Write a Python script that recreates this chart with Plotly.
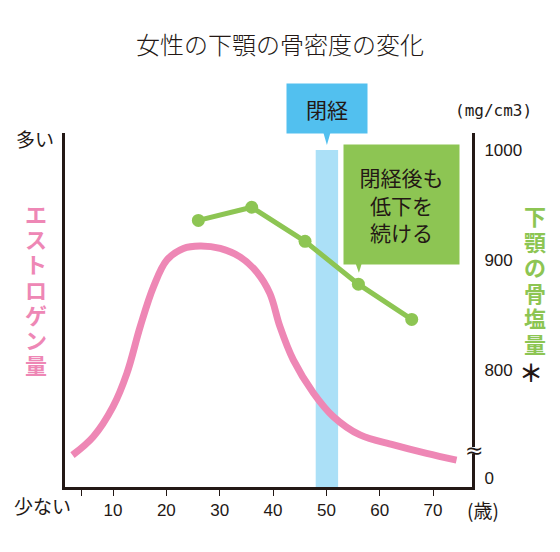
import plotly.graph_objects as go

# ---------------- data ----------------
estrogen_age = [2.4, 6.3, 10.0, 12.6, 15.1, 17.6, 20.1, 23.2, 26.3, 30.1, 33.8, 36.9,
                39.4, 41.3, 43.8, 47.6, 51.3, 56.3, 62.6, 68.8, 74.4]
estrogen_level = [9.0, 14.2, 22.7, 32.1, 45.3, 56.6, 64.1, 67.4, 68.1, 67.4, 65.0, 60.8,
                  54.7, 45.3, 35.9, 26.5, 19.9, 14.7, 11.9, 9.5, 7.6]

bone_age = [26, 36, 46, 56, 66]
bone_mineral = [936, 948, 917, 878, 846]   # mg/cm3

menopause_range = [48.0, 52.2]

x_tick_vals = [4, 10, 20, 30, 40, 50, 60, 70]
x_tick_text = ["", "10", "20", "30", "40", "50", "60", "70"]

y2_tick_vals = [702, 800, 900, 1000]       # 702 = broken-axis position of "0"
y2_tick_text = ["0", "800", "900", "1000"]

title_text = "女性の下顎の骨密度の変化"
left_label = "エストロゲン量"
right_label = "下顎の骨塩量"

# ---------------- style ----------------
W, H = 560, 552
ML, MR, MT, MB = 65, 88, 133, 65
PW, PH = W - ML - MR, H - MT - MB
INK = "#231815"
PINK = "#ee87b5"
GREEN = "#8dc553"
BAND = "#abe0f7"
BLUE = "#52c0ef"
JP = "Noto Sans CJK JP"
LAT = "Liberation Sans, Arial, sans-serif"
X_RANGE = [1.0, 77.3]
Y2_RANGE = [693.6, 1015.5]


def px_x(p):
    return (p - ML) / PW


def px_y(p):
    return (H - MB - p) / PH


def label(text, x, y, size, color=INK, family=JP, weight="normal", **kw):
    return dict(text=text, x=px_x(x), xref="paper", y=px_y(y), yref="paper",
                xanchor="center", yanchor="middle", showarrow=False,
                font=dict(family=family, size=size, color=color, weight=weight), **kw)


fig = go.Figure()

fig.add_trace(go.Scatter(
    x=estrogen_age, y=estrogen_level, mode="lines",
    line=dict(color=PINK, width=7, shape="spline", smoothing=1.0),
    yaxis="y", hoverinfo="skip", showlegend=False))

fig.add_trace(go.Scatter(
    x=bone_age, y=bone_mineral, mode="lines+markers",
    line=dict(color=GREEN, width=5),
    marker=dict(color=GREEN, size=13),
    yaxis="y2", hoverinfo="skip", showlegend=False))

shapes = []
# menopause band
shapes.append(dict(type="rect", xref="x", yref="y2",
                   x0=menopause_range[0], x1=menopause_range[1],
                   y0=Y2_RANGE[0], y1=1000,
                   fillcolor=BAND, line=dict(width=0), layer="below"))
mid = (menopause_range[0] + menopause_range[1]) / 2
# blue label pointer
shapes.append(dict(type="path", xref="x", yref="paper",
                   path=f"M {mid-0.75},{px_y(131)} L {mid+0.75},{px_y(131)} L {mid},{px_y(145)} Z",
                   fillcolor=BLUE, line=dict(width=0), layer="above"))
# green label pointer
pa = bone_age[3]
shapes.append(dict(type="path", xref="x", yref="y2",
                   path=f"M {pa-0.6},898 L {pa+0.7},898 L {pa+0.1},888.5 Z",
                   fillcolor=GREEN, line=dict(width=0), layer="above"))
# axis break gap
shapes.append(dict(type="rect", xref="paper", yref="y2",
                   x0=px_x(468), x1=px_x(476), y0=724, y1=730,
                   fillcolor="white", line=dict(width=0), layer="above"))

ann = []
ann.append(label(title_text, W / 2, 44, 24, weight=300))
# blue label box
ann.append(dict(text="閉経", x=mid, xref="x", y=px_y(108.5), yref="paper",
                xanchor="center", yanchor="middle", showarrow=False,
                width=80, height=49, bgcolor=BLUE, borderpad=0,
                font=dict(family=JP, size=21, color=INK)))
# green label box
ann.append(dict(text="閉経後も<br>低下を<br>続ける", x=64.1, xref="x", y=950.5, yref="y2",
                xanchor="center", yanchor="middle", showarrow=False,
                width=115, height=119, bgcolor=GREEN, borderpad=0,
                font=dict(family=JP, size=21, color=INK)))
# axis end labels
ann.append(label("多い", 35, 139, 19))
ann.append(label("少ない", 42, 505, 19))
ann.append(label("(歳)", 483, 510, 19))
ann.append(label("(mg/cm3)", 494, 110, 16, family="DejaVu Sans Mono, monospace"))
# break symbol
ann.append(dict(text="≈", x=1.0, xref="paper", y=727, yref="y2",
                xanchor="center", yanchor="middle", showarrow=False, xshift=1.5,
                font=dict(family="DejaVu Sans", size=22, color=INK)))
# vertical axis titles
for i, ch in enumerate(left_label):
    ann.append(label(ch, 36, 212.6 + 25.3 * i, 22, color=PINK, weight="bold"))
for i, ch in enumerate(right_label):
    ann.append(label(ch, 535, 215 + 25.5 * i, 22, color=GREEN, weight="bold"))
ann.append(label("＊", 531, 371, 24, weight="bold"))

fig.update_layout(
    width=W, height=H,
    margin=dict(l=ML, r=MR, t=MT, b=MB, autoexpand=False),
    paper_bgcolor="white", plot_bgcolor="white",
    showlegend=False,
    shapes=shapes, annotations=ann,
    xaxis=dict(range=X_RANGE, showline=True, linewidth=3, linecolor=INK,
               showgrid=False, zeroline=False, automargin=False,
               tickmode="array", tickvals=x_tick_vals, ticktext=x_tick_text,
               ticks="outside", ticklen=6, tickwidth=1, tickcolor=INK,
               tickfont=dict(family=LAT, size=17, color=INK)),
    yaxis=dict(range=[0, 100], showline=True, linewidth=3, linecolor=INK,
               showgrid=False, zeroline=False, showticklabels=False, ticks="",
               automargin=False),
    yaxis2=dict(range=Y2_RANGE, overlaying="y", side="right",
                showline=True, linewidth=3, linecolor=INK,
                showgrid=False, zeroline=False, ticks="", automargin=False,
                tickmode="array", tickvals=y2_tick_vals, ticktext=y2_tick_text,
                ticklabelstandoff=6,
                tickfont=dict(family=LAT, size=17, color=INK)),
)

fig.write_html("out.html", config={"displayModeBar": False},
               post_script="document.body.style.margin='0';document.body.style.padding='0';")
